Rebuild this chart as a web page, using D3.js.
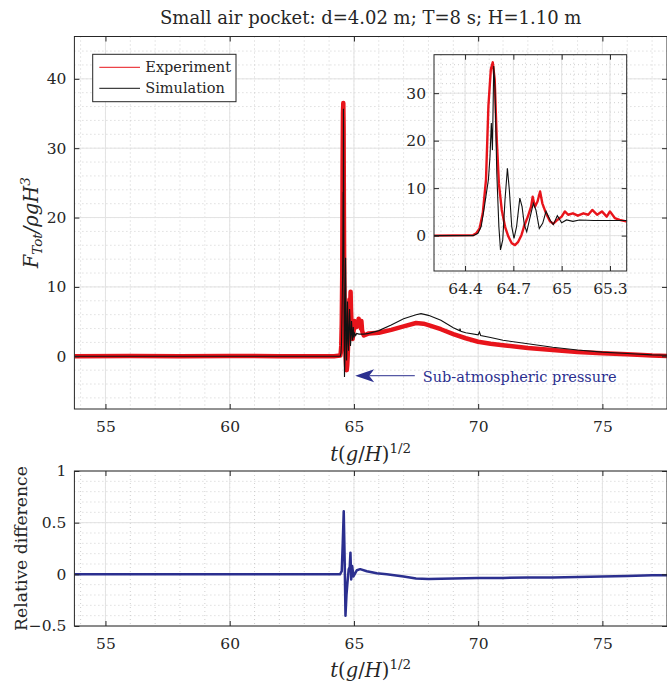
<!DOCTYPE html>
<html>
<head>
<meta charset="utf-8">
<script src="https://cdn.jsdelivr.net/npm/d3@7"></script>
<style>
  body { margin: 0; background: #fff; }
  text { font-family: "DejaVu Serif", serif; fill: #262626; }
</style>
</head>
<body>
<div id="chart"></div>
<script>
// experiment (red)
var timeExp = [53.75, 56, 58, 60, 62, 64.2, 64.45, 64.47, 64.49, 64.51, 64.53, 64.545, 64.56, 64.572, 64.584,
  64.597, 64.61, 64.628, 64.648, 64.669, 64.69, 64.71, 64.73, 64.75, 64.77, 64.79, 64.81, 64.82, 64.834,
  64.85, 64.866, 64.88, 64.903, 64.928, 64.948, 64.973, 65.0, 65.02, 65.04, 65.07, 65.1, 65.135, 65.165,
  65.19, 65.22, 65.25, 65.28, 65.3, 65.33, 65.36, 65.4, 65.6, 66.0, 66.5, 67.0, 67.5, 67.8, 68.0, 68.5,
  69.0, 69.5, 70.0, 70.5, 71.0, 72.0, 73.0, 74.0, 75.0, 76.0, 77.0, 77.6];
var forceExp = [0, 0.05, 0, 0.05, 0, 0, 0.1, 0.5, 1.5, 4.7, 11.8, 27.3, 35, 36.5, 32.9,
  20.2, 11, 5.4, 1.9, -0.2, -1.6, -2.0, -1.3, 0.1, 2.3, 4.0, 6.1, 8.2, 6.1,
  7.2, 9.3, 6.8, 4.7, 3.0, 2.5, 3.3, 4.0, 5.1, 4.4, 4.7, 4.2, 4.7, 4.4,
  5.4, 4.4, 5.1, 4.0, 5.1, 3.7, 3.3, 3.0, 3.3, 3.4, 3.8, 4.3, 4.8, 4.7, 4.5, 3.9,
  3.2, 2.6, 2.1, 1.8, 1.6, 1.2, 0.9, 0.6, 0.45, 0.3, 0.1, 0.05];

// simulation (black)
var timeSim = [53.75, 60, 64.45, 64.48, 64.50, 64.52, 64.545, 64.555, 64.563, 64.57, 64.578, 64.586, 64.597,
  64.61, 64.62, 64.634, 64.648, 64.663, 64.675, 64.69, 64.704, 64.72, 64.74, 64.754, 64.768, 64.783,
  64.80, 64.824, 64.84, 64.861, 64.882, 64.903, 64.928, 64.948, 64.973, 65.0, 65.03, 65.07, 65.11,
  65.2, 65.28, 65.4, 65.6, 66.0, 66.5, 67.0, 67.5, 67.7, 68.0, 68.5, 69.0, 69.25, 69.27, 69.3, 69.5,
  70.0, 70.05, 70.1, 70.5, 71.0, 72.0, 73.0, 74.0, 75.0, 76.0, 77.0, 77.6];
var forceSim = [0, 0, 0, 0.5, 1.9, 6.1, 11.8, 16.7, 23.7, 18, 35.7, 30.8, 13.2,
  1.9, -3.0, -0.9, 7.5, 14.2, 9.6, 1.9, -0.6, 1.9, 7.9, 6.1, 2.3, 0.8,
  3.3, 6.8, 5.4, 1.5, 2.6, 5.1, 3.3, 2.3, 4.2, 2.7, 3.3, 3.0, 3.3,
  3.2, 3.2, 3.2, 3.3, 3.7, 4.5, 5.4, 6.0, 6.15, 5.9, 5.2, 4.1, 3.7, 4.0, 3.6, 3.4,
  3.1, 3.5, 3.0, 2.7, 2.3, 1.8, 1.3, 0.9, 0.6, 0.4, 0.2, 0.15];

// relative difference (blue)
var timeDiff = [53.75, 58, 62, 64.44, 64.51, 64.55, 64.59, 64.63, 64.66, 64.70, 64.74, 64.79, 64.83, 64.86,
  64.89, 64.93, 64.98, 65.12, 65.25, 65.52, 65.92, 66.32, 67.0, 67.5, 68.0, 69.0, 70.0, 71.0, 72.0,
  73.0, 74.0, 75.0, 76.0, 77.0, 77.6];
var relDiff = [0, 0, 0, 0, 0.03, 0.3, 0.61, 0.1, -0.4, -0.2, -0.08, 0.05, 0.07, 0.21,
  -0.05, 0.08, -0.02, 0.04, 0.05, 0.03, 0.01, 0.0, -0.02, -0.04, -0.045, -0.04, -0.035, -0.035, -0.03,
  -0.03, -0.025, -0.02, -0.015, -0.01, -0.01];

var xTicks = [55, 60, 65, 70, 75];
var yTicksMain = [0, 10, 20, 30, 40];
var yTicksDiff = [-0.5, 0, 0.5, 1];
var xTicksInset = [64.4, 64.7, 65, 65.3];
var yTicksInset = [0, 10, 20, 30];
var seriesNames = ["Experiment", "Simulation"];
var seriesColors = ["#e8141b", "#111111"];
var diffColor = "#2b2f8f";

var width = 667, height = 684;
var svg = d3.select("#chart").append("svg")
  .attr("width", width)
  .attr("height", height);

var mainBox = {left: 74.4, right: 667, top: 36.5, bottom: 409};
var diffBox = {left: 74.4, right: 667, top: 471, bottom: 626};
var insetBox = {left: 434, right: 626.7, top: 54.7, bottom: 271};

var x = d3.scaleLinear().domain([53.75, 77.6]).range([mainBox.left, mainBox.right]);
var y = d3.scaleLinear().domain([-7.6, 46.1]).range([mainBox.bottom, mainBox.top]);
var yd = d3.scaleLinear().domain([-0.5, 1]).range([diffBox.bottom, diffBox.top]);
var xi = d3.scaleLinear().domain([64.207, 65.404]).range([insetBox.left, insetBox.right]);
var yi = d3.scaleLinear().domain([-7.45, 38.1]).range([insetBox.bottom, insetBox.top]);

function zip(a, b) { return a.map(function(d, i) { return [d, b[i]]; }); }
var expData = zip(timeExp, forceExp);
var simData = zip(timeSim, forceSim);
var diffData = zip(timeDiff, relDiff);

// background, grid and clip for one axes
function drawFrame(id, xs, ys, box, xMajor, yMajor, xMinor, yMinor) {
  var g = svg.append("g");
  g.append("rect")
    .attr("x", box.left).attr("y", box.top)
    .attr("width", box.right - box.left).attr("height", box.bottom - box.top)
    .attr("fill", "#fff");
  svg.append("clipPath").attr("id", id)
    .append("rect")
    .attr("x", box.left).attr("y", box.top)
    .attr("width", box.right - box.left).attr("height", box.bottom - box.top);

  g.selectAll(".mx").data(xMinor).enter().append("line")
    .attr("x1", function(d) { return xs(d); }).attr("x2", function(d) { return xs(d); })
    .attr("y1", box.top).attr("y2", box.bottom)
    .attr("stroke", "#c4c4c4").attr("stroke-width", 0.8).attr("stroke-dasharray", "1,3");
  g.selectAll(".my").data(yMinor).enter().append("line")
    .attr("y1", function(d) { return ys(d); }).attr("y2", function(d) { return ys(d); })
    .attr("x1", box.left).attr("x2", box.right)
    .attr("stroke", "#c4c4c4").attr("stroke-width", 0.8).attr("stroke-dasharray", "1,3");
  g.selectAll(".gx").data(xMajor).enter().append("line")
    .attr("x1", function(d) { return xs(d); }).attr("x2", function(d) { return xs(d); })
    .attr("y1", box.top).attr("y2", box.bottom)
    .attr("stroke", "#e3e3e3").attr("stroke-width", 1);
  g.selectAll(".gy").data(yMajor).enter().append("line")
    .attr("y1", function(d) { return ys(d); }).attr("y2", function(d) { return ys(d); })
    .attr("x1", box.left).attr("x2", box.right)
    .attr("stroke", "#e3e3e3").attr("stroke-width", 1);
  return g;
}

// box, inward ticks on all four sides, labels
function drawAxes(xs, ys, box, xMajor, yMajor, fmtY) {
  var g = svg.append("g").attr("class", "axes");
  g.append("g").attr("transform", "translate(0," + box.bottom + ")")
    .call(d3.axisBottom(xs).tickValues(xMajor).tickSize(-5).tickPadding(12).tickFormat(d3.format("")));
  g.append("g").attr("transform", "translate(0," + box.top + ")")
    .call(d3.axisTop(xs).tickValues(xMajor).tickSize(-5).tickFormat(""));
  g.append("g").attr("transform", "translate(" + box.left + ",0)")
    .call(d3.axisLeft(ys).tickValues(yMajor).tickSize(-5).tickPadding(8).tickFormat(fmtY));
  g.append("g").attr("transform", "translate(" + box.right + ",0)")
    .call(d3.axisRight(ys).tickValues(yMajor).tickSize(-5).tickFormat(""));
  g.selectAll(".domain").remove();
  g.selectAll(".tick line").attr("stroke", "#262626").attr("stroke-width", 1);
  g.selectAll(".tick text")
    .style("font-family", "'DejaVu Serif', serif")
    .style("font-size", "15.5px")
    .attr("fill", "#262626");
  g.append("rect")
    .attr("x", box.left).attr("y", box.top)
    .attr("width", box.right - box.left).attr("height", box.bottom - box.top)
    .attr("fill", "none").attr("stroke", "#262626").attr("stroke-width", 1);
}

var lineMain = d3.line().x(function(d) { return x(d[0]); }).y(function(d) { return y(d[1]); });
var lineDiff = d3.line().x(function(d) { return x(d[0]); }).y(function(d) { return yd(d[1]); });
var lineInset = d3.line().x(function(d) { return xi(d[0]); }).y(function(d) { return yi(d[1]); });

// ---------- top panel ----------
drawFrame("clipMain", x, y, mainBox, xTicks, yTicksMain, d3.range(54, 78, 1), d3.range(-6, 46, 2));
var gm = svg.append("g").attr("clip-path", "url(#clipMain)");
gm.append("path").datum(expData).attr("d", lineMain)
  .attr("fill", "none").attr("stroke", seriesColors[0]).attr("stroke-width", 4.5).attr("stroke-linejoin", "round");
gm.append("path").datum(simData).attr("d", lineMain)
  .attr("fill", "none").attr("stroke", seriesColors[1]).attr("stroke-width", 1.1);
drawAxes(x, y, mainBox, xTicks, yTicksMain, d3.format(""));

// annotation arrow
var tipX = x(65.05), tipY = y(-2.8);
svg.append("line")
  .attr("x1", tipX + 14).attr("y1", tipY)
  .attr("x2", x(67.45)).attr("y2", tipY)
  .attr("stroke", diffColor).attr("stroke-width", 1);
svg.append("path")
  .attr("d", "M" + tipX + "," + tipY + " L" + (tipX + 19) + "," + (tipY - 6.5) +
    " L" + (tipX + 14) + "," + tipY + " L" + (tipX + 19) + "," + (tipY + 6.5) + " Z")
  .attr("fill", diffColor);
svg.append("text")
  .attr("x", x(67.77)).attr("y", y(-3.7))
  .style("font-size", "14.5px")
  .style("fill", diffColor)
  .text("Sub-atmospheric pressure");

// legend
var lg = svg.append("g");
lg.append("rect").attr("x", 92.7).attr("y", 54.3).attr("width", 143.3).attr("height", 47.4)
  .attr("fill", "#fff").attr("stroke", "#262626").attr("stroke-width", 1);
seriesNames.forEach(function(name, i) {
  var ly = 67.3 + i * 21;
  lg.append("line").attr("x1", 99.3).attr("x2", 140).attr("y1", ly).attr("y2", ly)
    .attr("stroke", seriesColors[i]).attr("stroke-width", 1);
  lg.append("text").attr("x", 145.3).attr("y", ly + 5)
    .style("font-size", "14.5px").text(name);
});

// inset
drawFrame("clipInset", xi, yi, insetBox, xTicksInset, yTicksInset,
  d3.range(64.25, 65.4, 0.075), d3.range(-6, 38, 2));
var gi = svg.append("g").attr("clip-path", "url(#clipInset)");
gi.append("path").datum(expData).attr("d", lineInset)
  .attr("fill", "none").attr("stroke", seriesColors[0]).attr("stroke-width", 2.4).attr("stroke-linejoin", "round");
gi.append("path").datum(simData).attr("d", lineInset)
  .attr("fill", "none").attr("stroke", seriesColors[1]).attr("stroke-width", 1.1);
drawAxes(xi, yi, insetBox, xTicksInset, yTicksInset, d3.format(""));

// title and labels
svg.append("text")
  .attr("x", (mainBox.left + mainBox.right) / 2).attr("y", 24)
  .attr("text-anchor", "middle")
  .style("font-size", "18px")
  .text("Small air pocket: d=4.02 m; T=8 s; H=1.10 m");

function xLabel(yPos) {
  var t = svg.append("text")
    .attr("x", (mainBox.left + mainBox.right) / 2).attr("y", yPos)
    .attr("text-anchor", "middle")
    .style("font-size", "19.5px");
  t.append("tspan").style("font-style", "italic").text("t");
  t.append("tspan").text("(");
  t.append("tspan").style("font-style", "italic").text("g");
  t.append("tspan").text("/");
  t.append("tspan").style("font-style", "italic").text("H");
  t.append("tspan").text(")");
  t.append("tspan").attr("dy", -8).style("font-size", "13.5px").text("1/2");
}
xLabel(461);

var yl = svg.append("text")
  .attr("transform", "translate(38," + ((mainBox.top + mainBox.bottom) / 2) + ") rotate(-90)")
  .attr("text-anchor", "middle")
  .style("font-size", "19.5px").style("font-style", "italic");
yl.append("tspan").text("F");
yl.append("tspan").attr("dy", 4).style("font-size", "13.5px").text("Tot");
yl.append("tspan").attr("dy", -4).text("/ρgH");
yl.append("tspan").attr("dy", -8).style("font-size", "13.5px").text("3");

// ---------- bottom panel ----------
drawFrame("clipDiff", x, yd, diffBox, xTicks, yTicksDiff, d3.range(54, 78, 1), d3.range(-0.4, 1, 0.1));
svg.append("g").attr("clip-path", "url(#clipDiff)")
  .append("path").datum(diffData).attr("d", lineDiff)
  .attr("fill", "none").attr("stroke", diffColor).attr("stroke-width", 2.5).attr("stroke-linejoin", "round");
drawAxes(x, yd, diffBox, xTicks, yTicksDiff, d3.format(""));
xLabel(677);

svg.append("text")
  .attr("transform", "translate(27," + ((diffBox.top + diffBox.bottom) / 2) + ") rotate(-90)")
  .attr("text-anchor", "middle")
  .style("font-size", "17.2px")
  .text("Relative difference");
</script>
</body>
</html>
